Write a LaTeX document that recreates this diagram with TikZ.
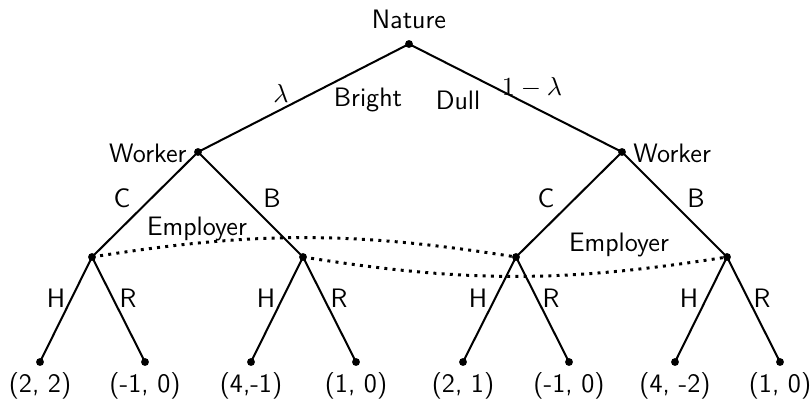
\documentclass[tikz,border=0pt]{standalone}
\usepackage{amsmath}
\renewcommand{\familydefault}{\sfdefault}
\begin{document}
\begin{tikzpicture}[x=0.42pt,y=0.42pt,
  every node/.style={font=\fontsize{11.2}{13}\selectfont},
  dot/.style={circle,fill,inner sep=0pt,minimum size=3.3pt},
  edge/.style={line width=0.85pt},
  info/.style={line width=1.25pt,dash pattern=on 1.25pt off 2.2pt}]
\useasboundingbox (0,0) rectangle (812,402);

% decision nodes
\node [dot] (nat) at (409,358) {};
\node [dot] (wl) at (198,250) {};
\node [dot] (wr) at (622,250) {};
\node [dot] (e1) at (92,145) {};
\node [dot] (e2) at (303,145) {};
\node [dot] (e3) at (516,145) {};
\node [dot] (e4) at (727,145) {};

% leaves
\node [dot] (t1) at (40,40) {};
\node [dot] (t2) at (145,40) {};
\node [dot] (t3) at (251,40) {};
\node [dot] (t4) at (356,40) {};
\node [dot] (t5) at (463,40) {};
\node [dot] (t6) at (569,40) {};
\node [dot] (t7) at (675,40) {};
\node [dot] (t8) at (780,40) {};

% player labels
\node (lnat) at (409,383) {Nature};
\node [anchor=east] (lwl) at (195,249) {Worker};
\node [anchor=west] (lwr) at (625,249) {Worker};
\node (le1) at (197,173) {Employer};
\node (le2) at (619,157) {Employer};

% move labels
\node (lam) at (281,309) {$\lambda$};
\node (bri) at (368,302) {Bright};
\node (dul) at (458,302) {Dull};
\node (olam) at (532,314) {$1-\lambda$};
\node (c1) at (122,204) {C};
\node (b1) at (272,204) {B};
\node (c2) at (546,204) {C};
\node (b2) at (696,204) {B};
\node (h1) at (56,104) {H};
\node (r1) at (128,104) {R};
\node (h2) at (266,104) {H};
\node (r2) at (339,104) {R};
\node (h3) at (478,104) {H};
\node (r3) at (551,104) {R};
\node (h4) at (689,104) {H};
\node (r4) at (762,104) {R};

% payoffs
\node (p1) at (40,16) {(2, 2)};
\node (p2) at (145,16) {(-1, 0)};
\node (p3) at (251,16) {(4,-1)};
\node (p4) at (356,16) {(1, 0)};
\node (p5) at (463,16) {(2, 1)};
\node (p6) at (569,16) {(-1, 0)};
\node (p7) at (675,16) {(4, -2)};
\node (p8) at (780,16) {(1, 0)};

% branches
\draw [edge] (nat.center) -- (wl.center);
\draw [edge] (nat.center) -- (wr.center);
\draw [edge] (wl.center) -- (e1.center);
\draw [edge] (wl.center) -- (e2.center);
\draw [edge] (wr.center) -- (e3.center);
\draw [edge] (wr.center) -- (e4.center);
\draw [edge] (e1.center) -- (t1.center);
\draw [edge] (e1.center) -- (t2.center);
\draw [edge] (e2.center) -- (t3.center);
\draw [edge] (e2.center) -- (t4.center);
\draw [edge] (e3.center) -- (t5.center);
\draw [edge] (e3.center) -- (t6.center);
\draw [edge] (e4.center) -- (t7.center);
\draw [edge] (e4.center) -- (t8.center);

% information sets
\draw [info] (e1.center) to[bend left=9] (e3.center);
\draw [info] (e2.center) to[bend right=9] (e4.center);

\end{tikzpicture}
\end{document}
